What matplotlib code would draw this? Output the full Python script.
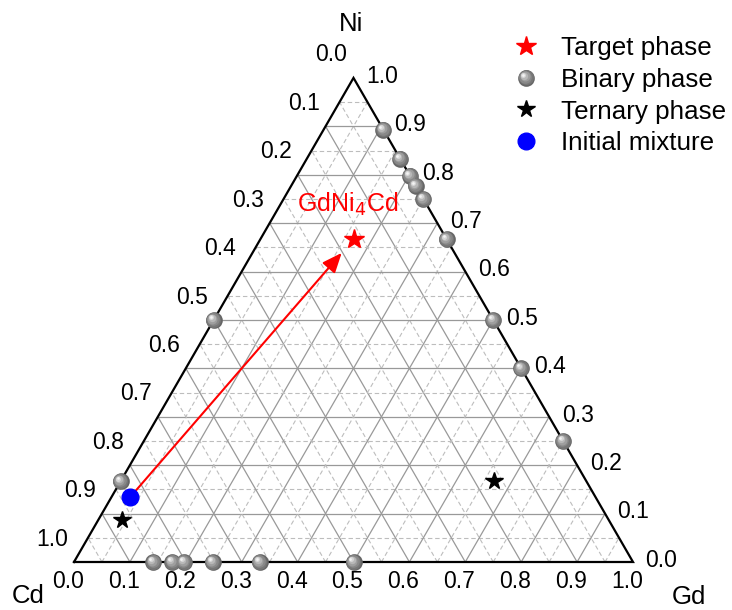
import numpy as np
import matplotlib
matplotlib.use("Agg")
import matplotlib.pyplot as plt
from matplotlib.lines import Line2D
from matplotlib.legend_handler import HandlerBase
import matplotlib.transforms as mtransforms

plt.rcParams['font.family'] = ['Liberation Sans', 'DejaVu Sans']

# ---------------- data (fractions: Gd, Ni; Cd = 1 - Gd - Ni) ----------------
target_gd = [0.1667]
target_ni = [0.6667]
target_label = "GdNi$_4$Cd"

binary_gd = [0.107, 0.167, 0.202, 0.223, 0.25, 0.333, 0.5, 0.6, 0.75,   # Gd-Ni edge
             0.0, 0.0,                                                  # Cd-Ni edge
             0.142, 0.176, 0.197, 0.248, 0.332, 0.5]                    # Gd-Cd edge
binary_ni = [0.893, 0.833, 0.798, 0.777, 0.75, 0.667, 0.5, 0.4, 0.25,
             0.5, 0.167,
             0.0, 0.0, 0.0, 0.0, 0.0, 0.0]

ternary_gd = [0.667, 0.043]
ternary_ni = [0.167, 0.087]

initial_gd = [0.0333]
initial_ni = [0.1333]

tick_values = [0.0, 0.1, 0.2, 0.3, 0.4, 0.5, 0.6, 0.7, 0.8, 0.9, 1.0]
legend_labels = ["Target phase", "Binary phase", "Ternary phase", "Initial mixture"]
axis_names = ["Ni", "Cd", "Gd"]

S3 = np.sqrt(3) / 2


def tern(gd, ni):
    gd = np.asarray(gd, float)
    ni = np.asarray(ni, float)
    return gd + ni / 2.0, ni * S3


W, H = 732, 610
fig = plt.figure(figsize=(W / 100, H / 100), dpi=100)
ax = fig.add_axes([0, 0, 1, 1])
sc = 559.0
ax.set_xlim(-74 / sc, (W - 74) / sc)
ax.set_ylim(-(H - 562) / sc, 562 / sc)
ax.axis('off')

# ---------------- grid ----------------
for k in range(1, 20):
    v = k * 0.05
    solid = (k % 2 == 0)
    kw = dict(color='#999999', lw=0.9, ls='-') if solid else \
        dict(color='#bdbdbd', lw=0.8, ls=(0, (4, 2.5)))
    # constant Ni
    x, y = tern([0, 1 - v], [v, v]); ax.plot(x, y, zorder=1, **kw)
    # constant Gd
    x, y = tern([v, v], [0, 1 - v]); ax.plot(x, y, zorder=1, **kw)
    # constant Cd
    x, y = tern([1 - v, 0], [0, 1 - v]); ax.plot(x, y, zorder=1, **kw)

# triangle
x, y = tern([0, 1, 0, 0], [0, 0, 1, 0])
ax.plot(x, y, color='black', lw=1.6, zorder=3, solid_joinstyle='miter')

# ---------------- tick labels ----------------
tfs = 16.5
for v in tick_values:
    # left: Cd fraction
    x, y = tern(0, 1 - v)
    ax.annotate(f"{v:.1f}", (x, y), xytext=(-15.8, 16.5), textcoords='offset points',
                ha='center', va='center', fontsize=tfs)
    # right: Ni fraction
    x, y = tern(1 - v, v)
    ax.annotate(f"{v:.1f}", (x, y), xytext=(20.5, 1.2), textcoords='offset points',
                ha='center', va='center', fontsize=tfs)
    # bottom: Gd fraction
    x, y = tern(v, 0)
    ax.annotate(f"{v:.1f}", (x, y), xytext=(-4.3, -14.0), textcoords='offset points',
                ha='center', va='center', fontsize=tfs)

afs = 18.5
fig.text(351 / W, 1 - 24 / H, axis_names[0], ha='center', va='center', fontsize=afs)
fig.text(28 / W, 1 - 596 / H, axis_names[1], ha='center', va='center', fontsize=afs)
fig.text(689 / W, 1 - 597 / H, axis_names[2], ha='center', va='center', fontsize=afs)

# ---------------- sphere markers ----------------
sphere_layers = [  # (size factor, color, dx, dy) in points
    (1.00, '#666666', 0.0, 0.0),
    (0.90, '#767676', -0.25, 0.25),
    (0.76, '#888888', -0.55, 0.55),
    (0.60, '#9e9e9e', -0.9, 0.9),
    (0.44, '#b8b8b8', -1.3, 1.3),
    (0.30, '#d6d6d6', -1.7, 1.7),
    (0.16, '#f4f4f4', -2.0, 2.0),
]
SMS = 12


def draw_spheres(xs, ys, ms=SMS, z=5):
    for f, c, dx, dy in sphere_layers:
        tr = mtransforms.offset_copy(ax.transData, fig=fig, x=dx * ms / 11, y=dy * ms / 11,
                                     units='points')
        ax.plot(xs, ys, ls='none', marker='o', ms=ms * f, mfc=c, mec='none',
                transform=tr, zorder=z)


bx, by = tern(binary_gd, binary_ni)
draw_spheres(bx, by)

# ternary phases
tx, ty = tern(ternary_gd, ternary_ni)
ax.plot(tx, ty, ls='none', marker='*', ms=13, color='black', zorder=6)

# initial mixture
ix, iy = tern(initial_gd, initial_ni)
ax.plot(ix, iy, ls='none', marker='o', ms=12, color='#0000ff', zorder=6)

# target
gx, gy = tern(target_gd, target_ni)
ax.plot(gx, gy, ls='none', marker='*', ms=15, color='#ff0000', zorder=6)
ax.annotate(target_label, (gx[0], gy[0]), xytext=(-4.3, 19.5), textcoords='offset points',
            ha='center', va='baseline', fontsize=18, color='#ff0000')

# arrow
ax.annotate('', xy=(gx[0], gy[0]), xytext=(ix[0], iy[0]),
            arrowprops=dict(arrowstyle='-|>,head_length=0.6,head_width=0.25',
                            color='#ff0000', lw=1.5, shrinkA=0, shrinkB=13,
                            mutation_scale=20),
            zorder=4)


# ---------------- legend ----------------
class SphereHandler(HandlerBase):
    def create_artists(self, legend, orig, xd, yd, width, height, fontsize, trans):
        arts = []
        cx, cy = xd + width / 2, yd + height / 2
        ms = SMS
        for f, c, dx, dy in sphere_layers:
            l = Line2D([cx + dx * ms / 11], [cy + dy * ms / 11], ls='none', marker='o',
                       ms=ms * f, mfc=c, mec='none')
            l.set_transform(trans)
            arts.append(l)
        return arts


h_target = Line2D([], [], ls='none', marker='*', ms=15, color='#ff0000')
h_binary = Line2D([], [], ls='none', marker='o', ms=SMS, color='#808080')
h_tern = Line2D([], [], ls='none', marker='*', ms=13, color='black')
h_init = Line2D([], [], ls='none', marker='o', ms=12, color='#0000ff')
leg = ax.legend([h_target, h_binary, h_tern, h_init], legend_labels,
                handler_map={h_binary: SphereHandler()},
                loc='upper left', bbox_to_anchor=(513 / W, 1 - 36 / H),
                bbox_transform=fig.transFigure, frameon=False, fontsize=18.7,
                handlelength=1.0, handletextpad=0.85, labelspacing=0.3,
                borderpad=0, borderaxespad=0)

fig.savefig('out.png', dpi=100)
